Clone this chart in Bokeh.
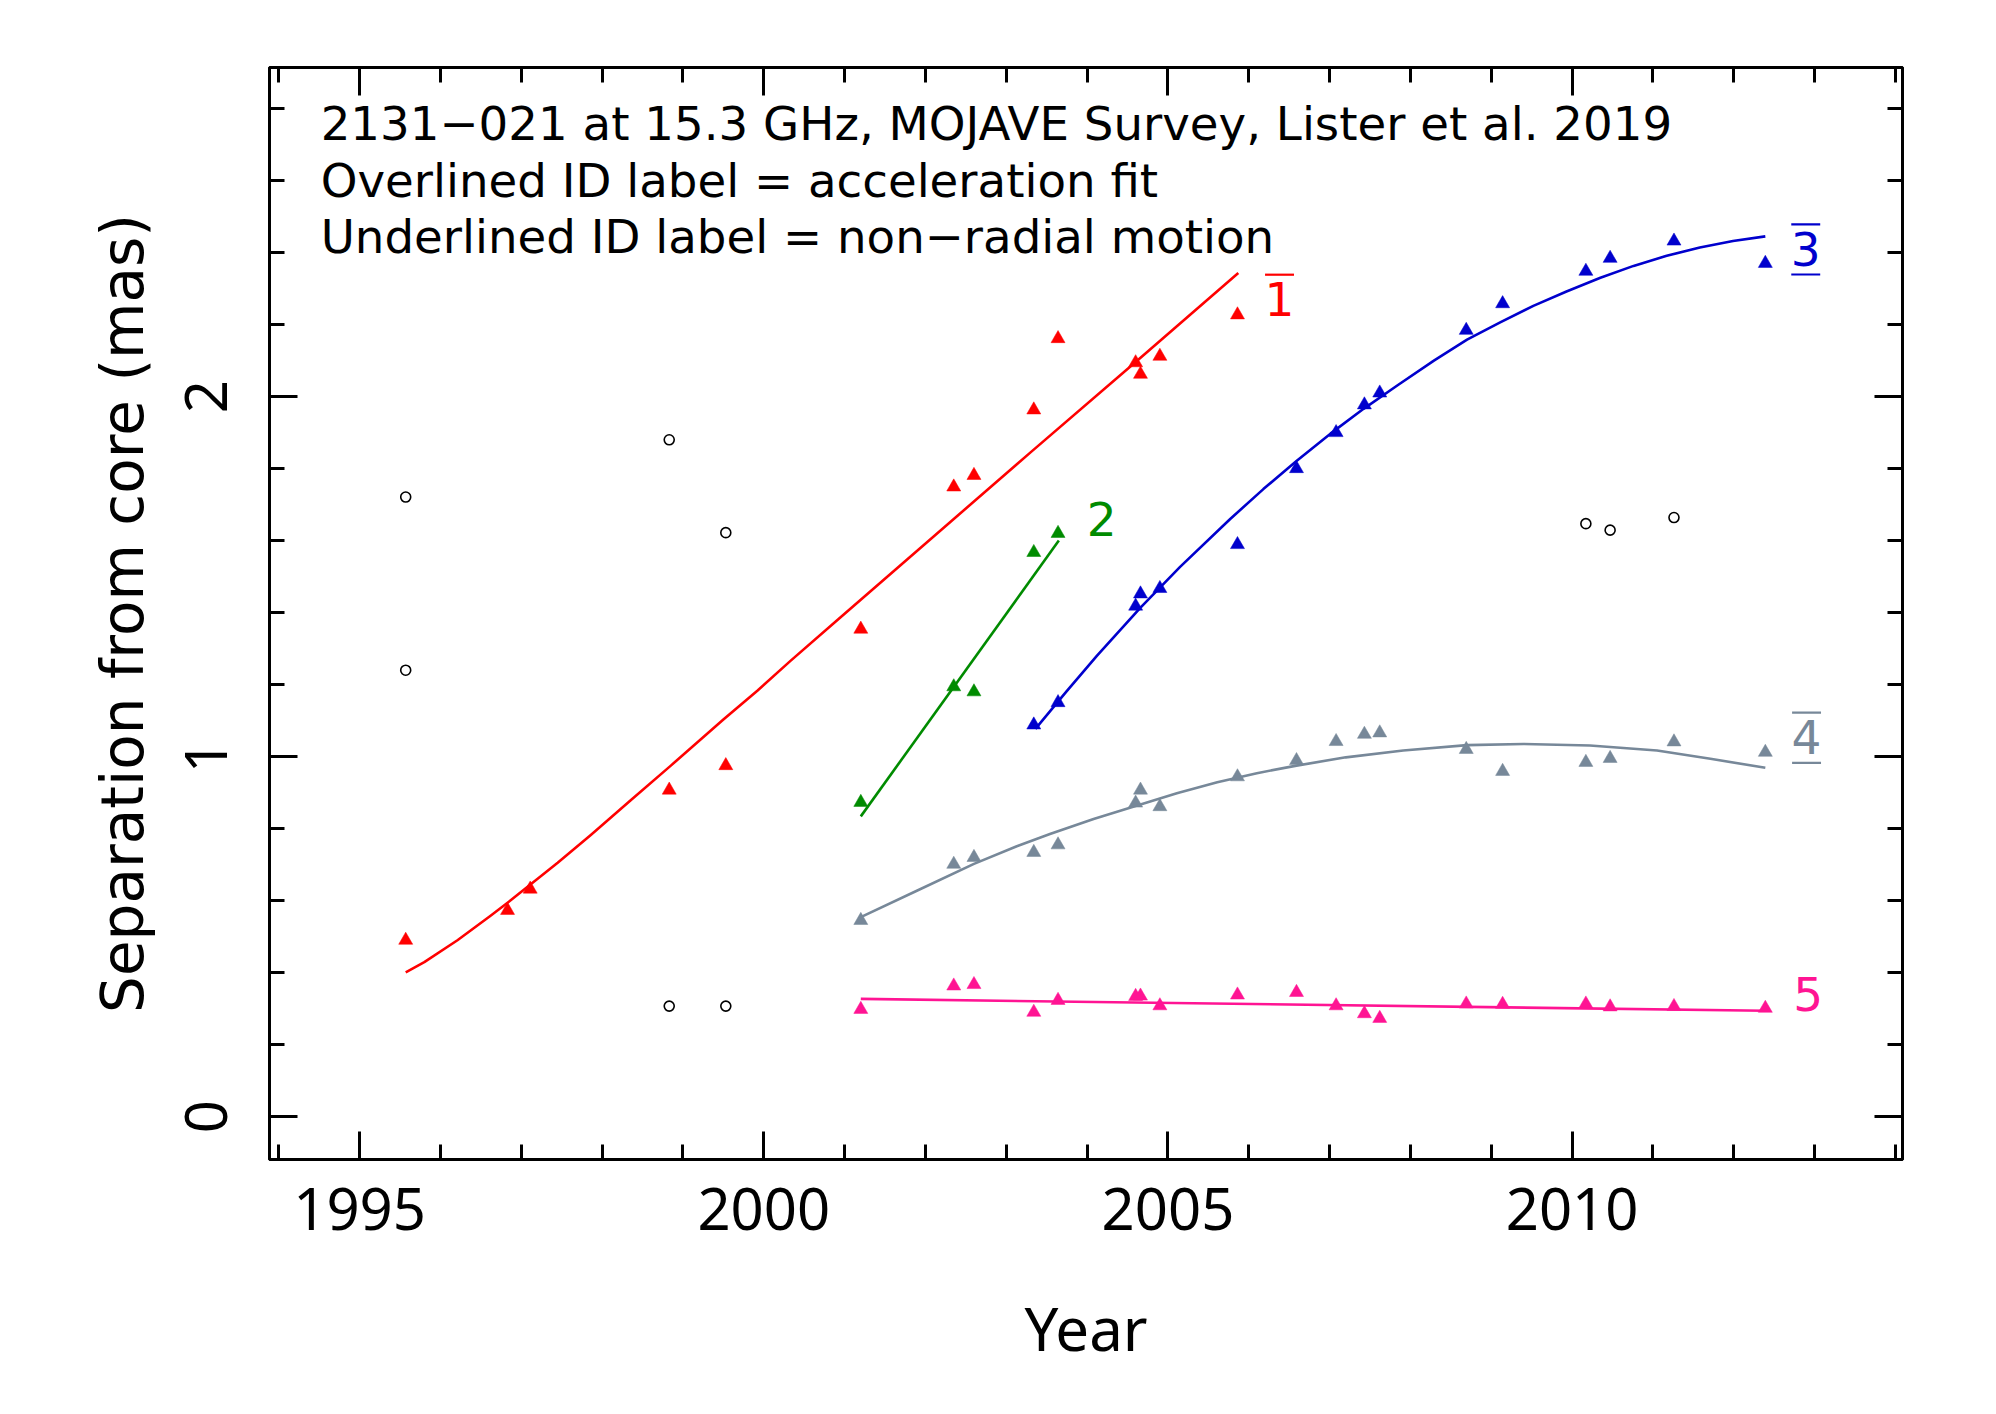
from bokeh.plotting import figure
from bokeh.models import (Range1d, SingleIntervalTicker, LinearAxis, Label,
                          CustomJSTickFormatter)
from bokeh.embed import file_html
from bokeh.resources import INLINE
from bokeh.core.properties import value

# ---------------- data ----------------
c1_year = [1995.57, 1996.83, 1997.11, 1998.83, 1999.53, 2001.20, 2002.35, 2002.60,
           2003.34, 2003.64, 2004.60, 2004.66, 2004.90, 2005.86]
c1_sep = [0.490, 0.573, 0.632, 0.907, 0.975, 1.354, 1.749, 1.781,
          1.963, 2.161, 2.094, 2.062, 2.112, 2.227]

c2_year = [2001.20, 2002.35, 2002.60, 2003.34, 2003.64]
c2_sep = [0.873, 1.194, 1.180, 1.567, 1.620]

c3_year = [2003.34, 2003.64, 2004.60, 2004.66, 2004.90, 2005.86, 2006.59, 2007.08,
           2007.43, 2007.62, 2008.69, 2009.14, 2010.17, 2010.47, 2011.26, 2012.39]
c3_sep = [1.088, 1.150, 1.418, 1.452, 1.467, 1.589, 1.800, 1.900,
          1.977, 2.010, 2.184, 2.258, 2.348, 2.384, 2.432, 2.370]

c4_year = [2001.20, 2002.35, 2002.60, 2003.34, 2003.64, 2004.60, 2004.66, 2004.90,
           2005.86, 2006.59, 2007.08, 2007.43, 2007.62, 2008.69, 2009.14, 2010.17,
           2010.47, 2011.26, 2012.39]
c4_sep = [0.545, 0.701, 0.720, 0.734, 0.755, 0.871, 0.907, 0.861,
          0.944, 0.989, 1.042, 1.062, 1.066, 1.020, 0.959, 0.984,
          0.995, 1.041, 1.012]

c5_year = [2001.20, 2002.35, 2002.60, 2003.34, 2003.64, 2004.60, 2004.66, 2004.90,
           2005.86, 2006.59, 2007.08, 2007.43, 2007.62, 2008.69, 2009.14, 2010.17,
           2010.47, 2011.26, 2012.39]
c5_sep = [0.298, 0.363, 0.367, 0.290, 0.323, 0.334, 0.335, 0.308,
          0.338, 0.345, 0.308, 0.286, 0.273, 0.313, 0.312, 0.313,
          0.305, 0.306, 0.301]

other_year = [1995.57, 1995.57, 1998.83, 1998.83, 1999.53, 1999.53, 2010.17, 2010.47, 2011.26]
other_sep = [1.721, 1.240, 1.880, 0.307, 1.622, 0.307, 1.647, 1.629, 1.664]

# fitted curves
fit1_year = [1995.57, 1995.80, 1996.21, 1996.62, 1996.83, 1997.45, 1997.86, 1998.35,
             1998.85, 1999.50, 1999.92, 2000.33, 2000.95, 2001.57, 2003.30, 2004.60,
             2005.87]
fit1_sep = [0.401, 0.429, 0.490, 0.558, 0.594, 0.705, 0.782, 0.878,
            0.975, 1.103, 1.183, 1.266, 1.387, 1.508, 1.845, 2.096,
            2.343]
fit2_year = [2001.20, 2003.65]
fit2_sep = [0.834, 1.600]
fit3_year = [2003.36, 2003.74, 2004.12, 2004.66, 2005.15, 2005.77, 2006.18, 2006.59,
             2007.01, 2007.42, 2007.85, 2008.29, 2008.70, 2009.11, 2009.52, 2009.93,
             2010.35, 2010.76, 2011.17, 2011.58, 2011.99, 2012.39]
fit3_sep = [1.077, 1.180, 1.280, 1.414, 1.527, 1.660, 1.743, 1.821,
            1.897, 1.966, 2.033, 2.100, 2.158, 2.206, 2.252, 2.292,
            2.330, 2.363, 2.391, 2.414, 2.432, 2.445]
fit4_year = [2001.20, 2001.90, 2002.60, 2003.13, 2003.54, 2004.08, 2004.62, 2005.11,
             2005.61, 2006.10, 2006.59, 2007.20, 2007.91, 2008.70, 2009.40, 2010.22,
             2011.05, 2011.71, 2012.39]
fit4_sep = [0.554, 0.628, 0.702, 0.751, 0.785, 0.827, 0.864, 0.898,
            0.929, 0.954, 0.975, 0.998, 1.017, 1.032, 1.035, 1.031,
            1.017, 0.994, 0.969]
fit5_year = [2001.20, 2012.39]
fit5_sep = [0.327, 0.294]

colors = ["#ff0000", "#008b00", "#0000cd", "#778899", "#ff1493"]

id_text = ["1", "2", "3", "4", "5"]
id_year = [2006.38, 2004.18, 2012.89, 2012.90, 2012.92]
id_sep = [2.224, 1.614, 2.364, 1.0075, 0.296]
id_over = [True, False, True, True, False]
id_under = [False, False, True, True, False]

header = ["2131\u2212021 at 15.3 GHz, MOJAVE Survey, Lister et al. 2019",
          "Overlined ID label = acceleration fit",
          "Underlined ID label = non\u2212radial motion"]
header_sep = [2.713, 2.557, 2.401]
header_year = 1994.518

x_range = (1993.885, 2014.087)
y_range = (-0.119, 2.914)

TICK_FONT = "Noto Sans"
TEXT_FONT = "DejaVu Sans"
# the renderer places glyph baselines slightly low; compensate (data units)
HEADER_SHIFT = 0.043
ID_SHIFT = 0.046

# ---------------- figure ----------------
p = figure(width=1980, height=1398, output_backend="svg", toolbar_location=None,
           x_range=Range1d(*x_range), y_range=Range1d(*y_range),
           min_border_left=269, min_border_right=78, min_border_top=67,
           min_border_bottom=239, background_fill_color="white",
           border_fill_color="white")
p.xgrid.visible = False
p.ygrid.visible = False
p.outline_line_color = "black"
p.outline_line_width = 3

xt = SingleIntervalTicker(interval=5, num_minor_ticks=5)
yt = SingleIntervalTicker(interval=1, num_minor_ticks=5)


def style_axis(ax, labels=True):
    ax.axis_line_width = 3
    ax.axis_line_color = "black"
    ax.major_tick_in = 28
    ax.major_tick_out = 0
    ax.minor_tick_in = 15
    ax.minor_tick_out = 0
    ax.major_tick_line_width = 3
    ax.minor_tick_line_width = 3
    ax.major_tick_line_color = "black"
    ax.minor_tick_line_color = "black"
    if labels:
        ax.major_label_text_font = TICK_FONT
        ax.major_label_text_font_size = "58px"
        ax.major_label_text_color = "black"
        ax.axis_label_text_font_style = "normal"
        ax.axis_label_text_color = "black"
    else:
        # mirrored frame ticks only: no tick labels
        ax.formatter = CustomJSTickFormatter(code="return '';")
        ax.major_label_text_font_size = "1px"
        ax.major_label_standoff = 0


p.xaxis.ticker = xt
p.yaxis.ticker = yt
style_axis(p.xaxis[0])
style_axis(p.yaxis[0])
p.xaxis.axis_label = "Year"
p.yaxis.axis_label = "Separation from core (mas)"
p.xaxis.axis_label_text_font = "Noto Sans"
p.xaxis.axis_label_text_font_size = "60px"
p.yaxis.axis_label_text_font = "DejaVu Sans"
p.yaxis.axis_label_text_font_size = "58px"
p.xaxis.major_label_standoff = 28
p.yaxis.major_label_standoff = 42
p.yaxis.major_label_orientation = "vertical"
p.xaxis.axis_label_standoff = 54
p.yaxis.axis_label_standoff = 26

top = LinearAxis(ticker=SingleIntervalTicker(interval=5, num_minor_ticks=5))
style_axis(top, labels=False)
p.add_layout(top, "above")
right = LinearAxis(ticker=SingleIntervalTicker(interval=1, num_minor_ticks=5))
style_axis(right, labels=False)
p.add_layout(right, "right")

# fits
fits = [(fit1_year, fit1_sep), (fit2_year, fit2_sep), (fit3_year, fit3_sep),
        (fit4_year, fit4_sep), (fit5_year, fit5_sep)]
for (fx, fy), c in zip(fits, colors):
    p.line(fx, fy, line_color=c, line_width=2.6, line_join="round")

# points
comps = [(c1_year, c1_sep), (c2_year, c2_sep), (c3_year, c3_sep),
         (c4_year, c4_sep), (c5_year, c5_sep)]
for (cx, cy), c in zip(comps, colors):
    p.scatter(cx, cy, marker="triangle", size=14, fill_color=c, line_color=c,
              line_width=0.5)

p.scatter(other_year, other_sep, marker="circle", size=10, fill_color=None,
          line_color="black", line_width=1.6)

# ID labels
p.text(x=id_year, y=[v + ID_SHIFT for v in id_sep], text=id_text,
       text_color=colors, text_font=value(TEXT_FONT), text_font_size="47px",
       text_align="center", text_baseline="alphabetic")
half_w = 0.179
for lx, ly, ov, un, c in zip(id_year, id_sep, id_over, id_under, colors):
    if ov:
        p.segment(x0=[lx - half_w], y0=[ly + 0.1145], x1=[lx + half_w],
                  y1=[ly + 0.1145], line_color=c, line_width=2.2)
    if un:
        p.segment(x0=[lx - half_w], y0=[ly - 0.025], x1=[lx + half_w],
                  y1=[ly - 0.025], line_color=c, line_width=2.2)

# header
for t, hy in zip(header, header_sep):
    p.add_layout(Label(x=header_year, y=hy + HEADER_SHIFT, text=t,
                       text_font=TEXT_FONT, text_font_size="46.7px",
                       text_color="black", text_align="left",
                       text_baseline="alphabetic"))

open("out.html", "w").write(file_html(p, INLINE))
